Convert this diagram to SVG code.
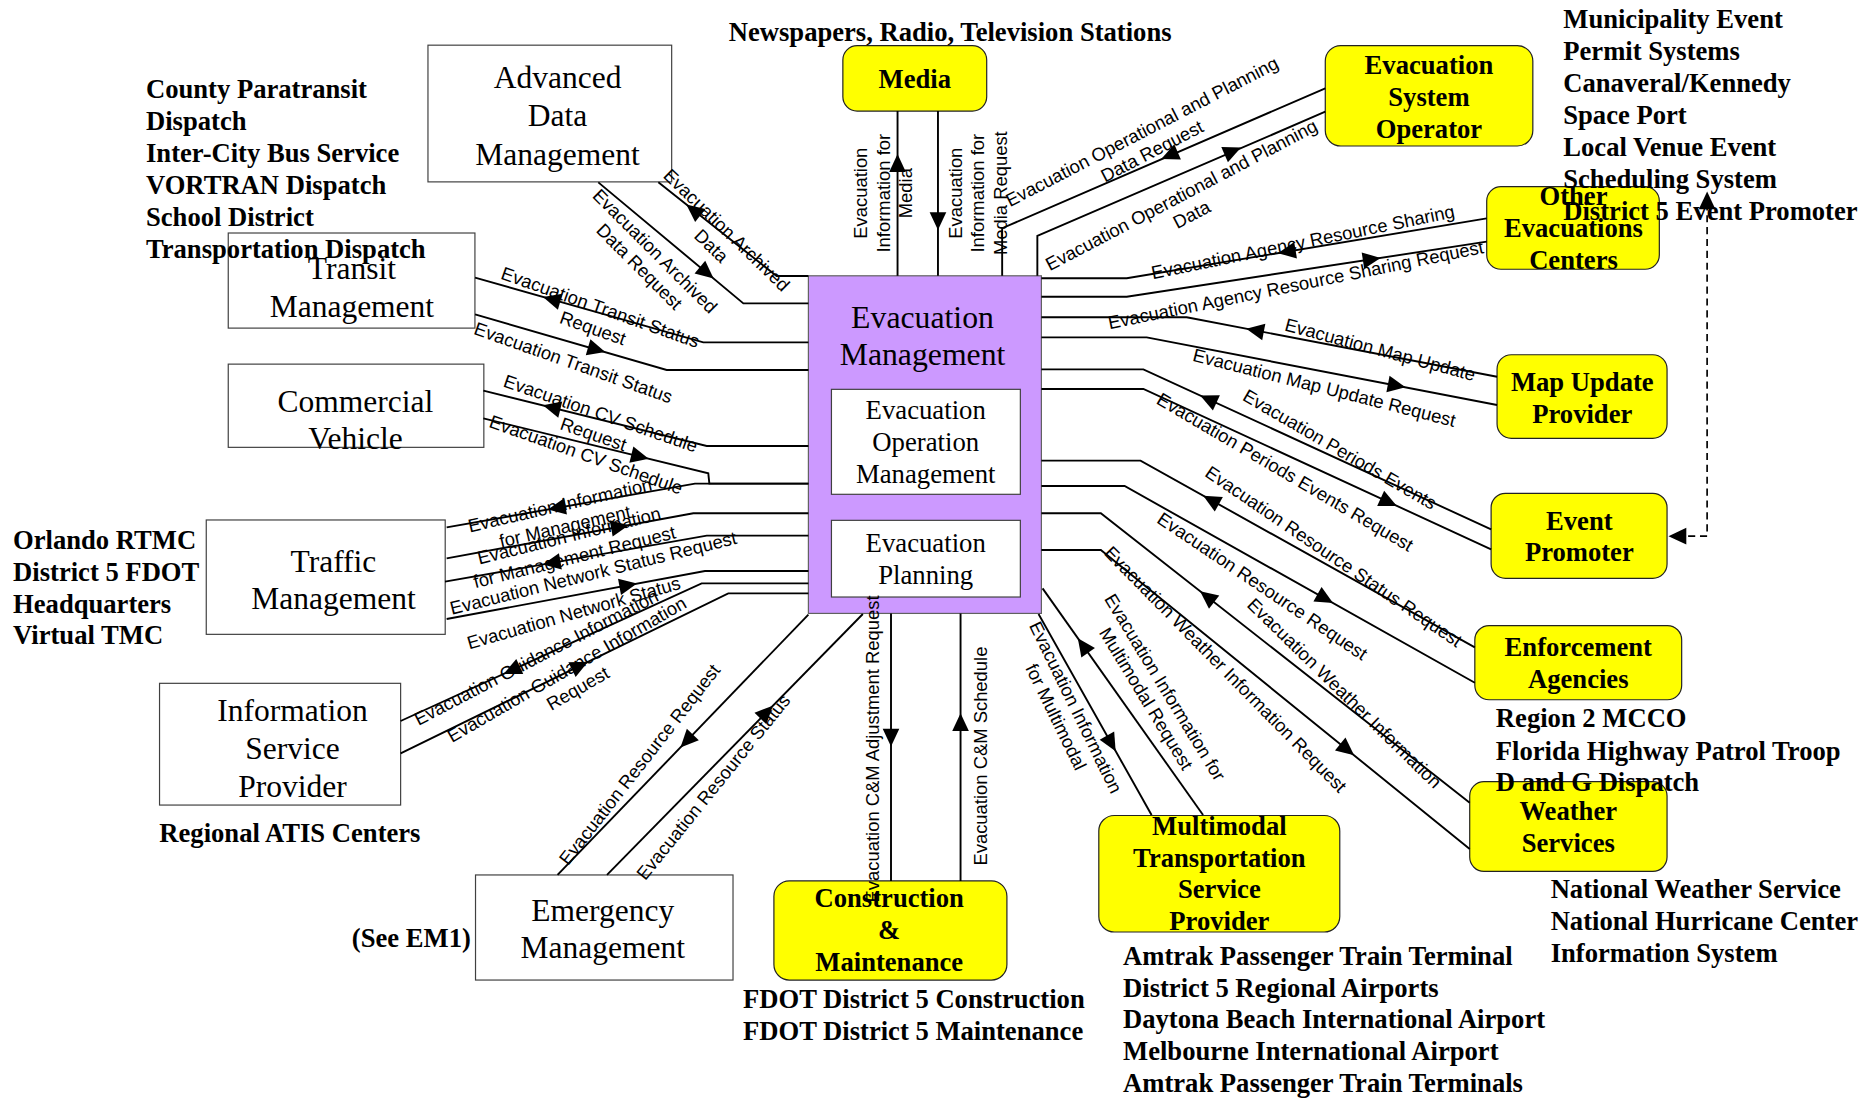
<svg xmlns="http://www.w3.org/2000/svg" width="1864" height="1099" viewBox="0 0 1864 1099">
<defs>
<marker id="ah" markerUnits="userSpaceOnUse" markerWidth="15" markerHeight="14" refX="7.5" refY="7" orient="auto" viewBox="0 0 15 14" overflow="visible"><path d="M0,0 L15,7 L0,14 z" fill="#000"/></marker>
<style>
.wn{fill:#fff;stroke:#404040;stroke-width:1}
.yn{fill:#ffff00;stroke:#222;stroke-width:1}
.cn{fill:#cc99ff;stroke:#606060;stroke-width:1}
.nt{font-family:"Liberation Serif","Times New Roman",serif;font-size:26.5px;text-anchor:middle;fill:#000}
.it{font-family:"Liberation Serif","Times New Roman",serif;font-size:22.5px;text-anchor:middle;fill:#000}
.yt{font-family:"Liberation Serif","Times New Roman",serif;font-weight:bold;font-size:22.4px;text-anchor:middle;fill:#000}
.an{font-family:"Liberation Serif","Times New Roman",serif;font-weight:bold;font-size:22.4px;fill:#000}
.lb{font-family:"Liberation Sans",Arial,sans-serif;font-size:15.5px;text-anchor:middle;fill:#000}
.c path{fill:none;stroke:#000;stroke-width:1.6}
.c path.a{stroke:none;marker-end:url(#ah)}
.c path.d{stroke-width:1.4;stroke-dasharray:6 4}
</style>
</defs>
<rect width="1864" height="1099" fill="#fff"/>
<g transform="scale(1.1888)">

<g id="n-adm"><rect class="wn" x="360" y="38" width="205" height="115"/><text class="nt" x="469" y="74">Advanced<tspan x="469" dy="32.2">Data</tspan><tspan x="469" dy="32.2">Management</tspan></text></g>
<g id="n-transit"><rect class="wn" x="192" y="196" width="207.5" height="80"/><text class="nt" x="296" y="235">Transit<tspan x="296" dy="32">Management</tspan></text></g>
<g id="n-cv"><rect class="wn" x="192" y="306.3" width="215" height="70"/><text class="nt" x="299" y="346.5">Commercial<tspan x="299" dy="31.5">Vehicle</tspan></text></g>
<g id="n-traffic"><rect class="wn" x="173.5" y="437.4" width="201" height="96.2"/><text class="nt" x="280.5" y="481">Traffic<tspan x="280.5" dy="31.5">Management</tspan></text></g>
<g id="n-isp"><rect class="wn" x="134.2" y="574.8" width="202.8" height="102.4"/><text class="nt" x="246" y="606.5">Information<tspan x="246" dy="32">Service</tspan><tspan x="246" dy="32">Provider</tspan></text></g>
<g id="n-em"><rect class="wn" x="400" y="736" width="216.6" height="88.4"/><text class="nt" x="507" y="774.5">Emergency<tspan x="507" dy="31.7">Management</tspan></text></g>

<g id="n-central">
<rect class="cn" x="680" y="232" width="196" height="284"/>
<text class="nt" x="776" y="276.2" style="font-size:26.7px">Evacuation<tspan x="776" dy="30.8">Management</tspan></text>
<g id="n-eom"><rect class="wn" x="699.4" y="327.5" width="158.9" height="88.3"/><text class="it" x="778.7" y="352.8">Evacuation<tspan x="778.7" dy="26.9">Operation</tspan><tspan x="778.7" dy="26.9">Management</tspan></text></g>
<g id="n-ep"><rect class="wn" x="699.4" y="437.7" width="158.9" height="64.5"/><text class="it" x="778.7" y="464.6">Evacuation<tspan x="778.7" dy="26.5">Planning</tspan></text></g>
</g>

<g id="n-media"><rect class="yn" x="709" y="38.4" width="121" height="55" rx="12"/><text class="yt" x="769.5" y="73.8">Media</text></g>
<g id="n-eso"><rect class="yn" x="1114.8" y="38.4" width="174.6" height="84.4" rx="13"/><text class="yt" x="1202" y="62.4">Evacuation<tspan x="1202" dy="26.9">System</tspan><tspan x="1202" dy="26.9">Operator</tspan></text></g>
<g id="n-oec"><rect class="yn" x="1250.6" y="157" width="145.2" height="69.5" rx="12"/><text class="yt" x="1323.6" y="172.4">Other<tspan x="1323.6" dy="27.1">Evacuations</tspan><tspan x="1323.6" dy="27.1">Centers</tspan></text></g>
<g id="n-mup"><rect class="yn" x="1259.3" y="298.4" width="143" height="70.3" rx="12"/><text class="yt" x="1331" y="329">Map Update<tspan x="1331" dy="26.7">Provider</tspan></text></g>
<g id="n-evp"><rect class="yn" x="1254.3" y="415" width="148" height="71.5" rx="12"/><text class="yt" x="1328.5" y="445.8">Event<tspan x="1328.5" dy="26.2">Promoter</tspan></text></g>
<g id="n-ea"><rect class="yn" x="1240.6" y="526.2" width="174" height="62.4" rx="12"/><text class="yt" x="1327.6" y="551.8">Enforcement<tspan x="1327.6" dy="26.7">Agencies</tspan></text></g>
<g id="n-ws"><rect class="yn" x="1236.3" y="657.5" width="166" height="75.5" rx="12"/><text class="yt" x="1319.2" y="689.8">Weather<tspan x="1319.2" dy="26.6">Services</tspan></text></g>
<g id="n-mtsp"><rect class="yn" x="924.3" y="686" width="202.7" height="98" rx="13"/><text class="yt" x="1025.7" y="702.4">Multimodal<tspan x="1025.7" dy="26.6">Transportation</tspan><tspan x="1025.7" dy="26.6">Service</tspan><tspan x="1025.7" dy="26.6">Provider</tspan></text></g>
<g id="n-cm"><rect class="yn" x="651" y="741" width="196" height="83.4" rx="13"/><text class="yt" x="748" y="762.7">Construction<tspan x="748" dy="26.9">&amp;</tspan><tspan x="748" dy="27.6">Maintenance</tspan></text></g>

<g id="connectors" class="c">
<path d="M553.8,153.4 L653.3,232.2 L680,232.2"/>
<path class="a" d="M653.3,232.2 L583.2,176.7"/>
<path d="M503.3,153.4 L625.3,255.2 L680,255.2"/>
<path class="a" d="M503.3,153.4 L594.5,229.5"/>
<path d="M399.6,233.6 L591.6,288 L680,288"/>
<path class="a" d="M591.6,288 L464,251.8"/>
<path d="M399.6,264.4 L560.8,311.2 L680,311.2"/>
<path class="a" d="M399.6,264.4 L501.9,294.1"/>
<path d="M406.6,328.6 L594.5,375.2 L680,375.2"/>
<path class="a" d="M594.5,375.2 L464,342.8"/>
<path d="M406.6,351.9 L595.8,398.2 L596.7,406.8 L680,406.8"/>
<path class="a" d="M406.6,351.9 L538.4,384.2"/>
<path d="M375.7,443.6 L584.6,406.8 L680,406.8"/>
<path class="a" d="M584.6,406.8 L468.3,427.3"/>
<path d="M375.7,469.7 L583.2,431.8 L680,431.8"/>
<path class="a" d="M375.7,469.7 L521.5,443.1"/>
<path d="M374.3,489.3 L594.5,450.6 L680,450.6"/>
<path class="a" d="M594.5,450.6 L464,473.5"/>
<path d="M375.7,520.7 L593,480.3 L680,480.3"/>
<path class="a" d="M375.7,520.7 L528.5,492.3"/>
<path d="M337,606.5 L590.2,490.7 L680,490.7"/>
<path class="a" d="M590.2,490.7 L430.4,563.8"/>
<path d="M337,633.7 L612.6,499.1 L680,499.1"/>
<path class="a" d="M337,633.7 L487.9,560"/>
<path d="M469,736 L680,517"/>
<path class="a" d="M680,517 L577.6,623.3"/>
<path d="M510.6,736 L725.8,516.5"/>
<path class="a" d="M510.6,736 L644.9,599"/>
<path d="M749.5,516 L749.5,741"/>
<path class="a" d="M749.5,516 L749.5,620.5"/>
<path d="M808,741 L808,516"/>
<path class="a" d="M808,741 L808,607.5"/>
<path d="M873.6,516.5 L968.7,685.6"/>
<path class="a" d="M873.6,516.5 L934.8,625.3"/>
<path d="M877,494.9 L1012,685.6"/>
<path class="a" d="M1012,685.6 L911,543"/>
<path d="M755,93.4 L755,232"/>
<path class="a" d="M755,232 L755,137.1"/>
<path d="M789,93.4 L789,232"/>
<path class="a" d="M789,93.4 L789,186"/>
<path d="M843,232 L843,192 L1114.8,74.3"/>
<path class="a" d="M1114.8,74.3 L983.7,130.7"/>
<path d="M872.6,232 L872.6,198.5 L1114.8,94"/>
<path class="a" d="M872.6,198.5 L1037,127.1"/>
<path d="M876,234.1 L947.8,234.1 L1250.6,183.7"/>
<path class="a" d="M1250.6,183.7 L1082.4,211.7"/>
<path d="M876,249.6 L947.8,249.6 L1250.6,203.3"/>
<path class="a" d="M947.8,249.6 L1153.9,218.1"/>
<path d="M876,266.9 L998.2,266.9 L1259.3,316.9"/>
<path class="a" d="M1259.3,316.9 L1055.7,277.9"/>
<path d="M876,283.8 L964.6,283.8 L1259.3,340.7"/>
<path class="a" d="M964.6,283.8 L1174.9,324.4"/>
<path d="M876,310.7 L961.8,310.7 L1254.3,445.3"/>
<path class="a" d="M1254.3,445.3 L1016.4,335.8"/>
<path d="M876,327.2 L961.8,327.2 L1254.3,462.1"/>
<path class="a" d="M961.8,327.2 L1168.2,422.4"/>
<path d="M876,387.5 L959.4,387.5 L1240.6,544.5"/>
<path class="a" d="M1240.6,544.5 L1018.7,420.6"/>
<path d="M876,408.8 L946,408.8 L1240.6,574.3"/>
<path class="a" d="M946,408.8 L1114.8,503.6"/>
<path d="M876,431.8 L926,431.8 L1236.3,675.2"/>
<path class="a" d="M1236.3,675.2 L1015.4,501.9"/>
<path d="M876,462.7 L926,462.7 L1236.3,714.2"/>
<path class="a" d="M926,462.7 L1133.2,630.6"/>
<path class="d" d="M1410,451 L1436,451 L1436,167"/>
<path class="a" d="M1436,451 L1411,451"/>
<path class="a" d="M1436,451 L1436,168.5"/>

<text class="lb" transform="translate(611.3 193.5) rotate(44)"><tspan x="0" y="5.4">Evacuation Archived</tspan><tspan x="0" y="23.9">Data</tspan></text>
<text class="lb" transform="translate(551 211.2) rotate(45)"><tspan x="0" y="5.4">Evacuation Archived</tspan><tspan x="0" y="23.9">Data Request</tspan></text>
<text class="lb" transform="translate(505 258.5) rotate(19.5)"><tspan x="0" y="5.4">Evacuation Transit Status</tspan><tspan x="0" y="23.9">Request</tspan></text>
<text class="lb" transform="translate(482.3 305) rotate(19.5)"><tspan x="0" y="5.4">Evacuation Transit Status</tspan></text>
<text class="lb" transform="translate(505.3 347.7) rotate(19)"><tspan x="0" y="5.4">Evacuation CV Schedule</tspan><tspan x="0" y="23.9">Request</tspan></text>
<text class="lb" transform="translate(493 382.5) rotate(19.5)"><tspan x="0" y="5.4">Evacuation CV Schedule</tspan></text>
<text class="lb" transform="translate(471 424.8) rotate(-13)"><tspan x="0" y="5.4">Evacuation Information</tspan><tspan x="0" y="23.9">for Management</tspan></text>
<text class="lb" transform="translate(478.7 450.5) rotate(-14)"><tspan x="0" y="5.4">Evacuation Information</tspan><tspan x="0" y="23.9">for Management Request</tspan></text>
<text class="lb" transform="translate(499 482) rotate(-14)"><tspan x="0" y="5.4">Evacuation Network Status Request</tspan></text>
<text class="lb" transform="translate(482.5 515.5) rotate(-16)"><tspan x="0" y="5.4">Evacuation Network Status</tspan></text>
<text class="lb" transform="translate(451 553) rotate(-27.5)"><tspan x="0" y="5.4">Evacuation Guidance Information</tspan></text>
<text class="lb" transform="translate(476.7 563) rotate(-30)"><tspan x="0" y="5.4">Evacuation Guidance Information</tspan><tspan x="0" y="23.9">Request</tspan></text>
<text class="lb" transform="translate(538 643) rotate(-52)"><tspan x="0" y="5.4">Evacuation Resource Request</tspan></text>
<text class="lb" transform="translate(600 662) rotate(-51)"><tspan x="0" y="5.4">Evacuation Resource Status</tspan></text>
<text class="lb" transform="translate(734 630) rotate(-90)"><tspan x="0" y="5.4">Evacuation C&amp;M Adjustment Request</tspan></text>
<text class="lb" transform="translate(825 636) rotate(-90)"><tspan x="0" y="5.4">Evacuation C&amp;M Schedule</tspan></text>
<text class="lb" transform="translate(905 595) rotate(64)"><tspan x="0" y="5.4">Evacuation Information</tspan><tspan x="0" y="23.9">for Multimodal</tspan></text>
<text class="lb" transform="translate(980 578) rotate(58.7)"><tspan x="0" y="5.4">Evacuation Information for</tspan><tspan x="0" y="23.9">Multimodal Request</tspan></text>
<text class="lb" transform="translate(1031 563) rotate(45.5)"><tspan x="0" y="5.4">Evacuation Weather Information Request</tspan></text>
<text class="lb" transform="translate(1131 583) rotate(44.3)"><tspan x="0" y="5.4">Evacuation Weather Information</tspan></text>
<text class="lb" transform="translate(1062 493) rotate(34)"><tspan x="0" y="5.4">Evacuation Resource Request</tspan></text>
<text class="lb" transform="translate(1122 468) rotate(34.3)"><tspan x="0" y="5.4">Evacuation Resource Status Request</tspan></text>
<text class="lb" transform="translate(1081 397) rotate(30.5)"><tspan x="0" y="5.4">Evacuation Periods Events Request</tspan></text>
<text class="lb" transform="translate(1127 378) rotate(30.2)"><tspan x="0" y="5.4">Evacuation Periods Events</tspan></text>
<text class="lb" transform="translate(1114 326) rotate(14.2)"><tspan x="0" y="5.4">Evacuation Map Update Request</tspan></text>
<text class="lb" transform="translate(1161 294) rotate(15)"><tspan x="0" y="5.4">Evacuation Map Update</tspan></text>
<text class="lb" transform="translate(1090 239.5) rotate(-11.5)"><tspan x="0" y="5.4">Evacuation Agency Resource Sharing Request</tspan></text>
<text class="lb" transform="translate(1096 203.5) rotate(-11.6)"><tspan x="0" y="5.4">Evacuation Agency Resource Sharing</tspan></text>
<text class="lb" transform="translate(960.5 110.7) rotate(-27.4)"><tspan x="0" y="5.4">Evacuation Operational and Planning</tspan><tspan x="0" y="23.9">Data Request</tspan></text>
<text class="lb" transform="translate(993.7 164) rotate(-27.7)"><tspan x="0" y="5.4">Evacuation Operational and Planning</tspan><tspan x="0" y="23.9">Data</tspan></text>
<text class="lb" transform="translate(724 162.5) rotate(-90)"><tspan x="0" y="5.4">Evacuation</tspan><tspan x="0" y="24.4">Information for</tspan><tspan x="0" y="43.4">Media</tspan></text>
<text class="lb" transform="translate(803.5 162.5) rotate(-90)"><tspan x="0" y="5.4">Evacuation</tspan><tspan x="0" y="24.4">Information for</tspan><tspan x="0" y="43.4">Media Request</tspan></text>
</g>

<g id="notes">
<text class="an" x="613" y="34.2">Newspapers, Radio, Television Stations</text>
<text class="an" x="122.8" y="82.7">County Paratransit<tspan x="122.8" dy="26.9">Dispatch</tspan><tspan x="122.8" dy="26.9">Inter-City Bus Service</tspan><tspan x="122.8" dy="26.9">VORTRAN Dispatch</tspan><tspan x="122.8" dy="26.9">School District</tspan><tspan x="122.8" dy="26.9">Transportation Dispatch</tspan></text>
<text class="an" x="11" y="462">Orlando RTMC<tspan x="11" dy="26.7">District 5 FDOT</tspan><tspan x="11" dy="26.7">Headquarters</tspan><tspan x="11" dy="26.7">Virtual TMC</tspan></text>
<text class="an" x="134" y="708">Regional ATIS Centers</text>
<text class="an" x="296" y="797">(See EM1)</text>
<text class="an" x="625" y="848">FDOT District 5 Construction<tspan x="625" dy="26.8">FDOT District 5 Maintenance</tspan></text>
<text class="an" x="944.7" y="811.8">Amtrak Passenger Train Terminal<tspan x="944.7" dy="26.6">District 5 Regional Airports</tspan><tspan x="944.7" dy="26.6">Daytona Beach International Airport</tspan><tspan x="944.7" dy="26.6">Melbourne International Airport</tspan><tspan x="944.7" dy="26.6">Amtrak Passenger Train Terminals</tspan></text>
<text class="an" x="1258.3" y="611.3">Region 2 MCCO<tspan x="1258.3" dy="27.6">Florida Highway Patrol Troop</tspan><tspan x="1258.3" dy="26.6">D and G Dispatch</tspan></text>
<text class="an" x="1304.4" y="755.7">National Weather Service<tspan x="1304.4" dy="26.6">National Hurricane Center</tspan><tspan x="1304.4" dy="26.6">Information System</tspan></text>
<text class="an" x="1315" y="23.8">Municipality Event<tspan x="1315" dy="26.9">Permit Systems</tspan><tspan x="1315" dy="26.9">Canaveral/Kennedy</tspan><tspan x="1315" dy="26.9">Space Port</tspan><tspan x="1315" dy="26.9">Local Venue Event</tspan><tspan x="1315" dy="26.9">Scheduling System</tspan><tspan x="1315" dy="26.9">District 5 Event Promoter</tspan></text>
</g>
</g>
</svg>
